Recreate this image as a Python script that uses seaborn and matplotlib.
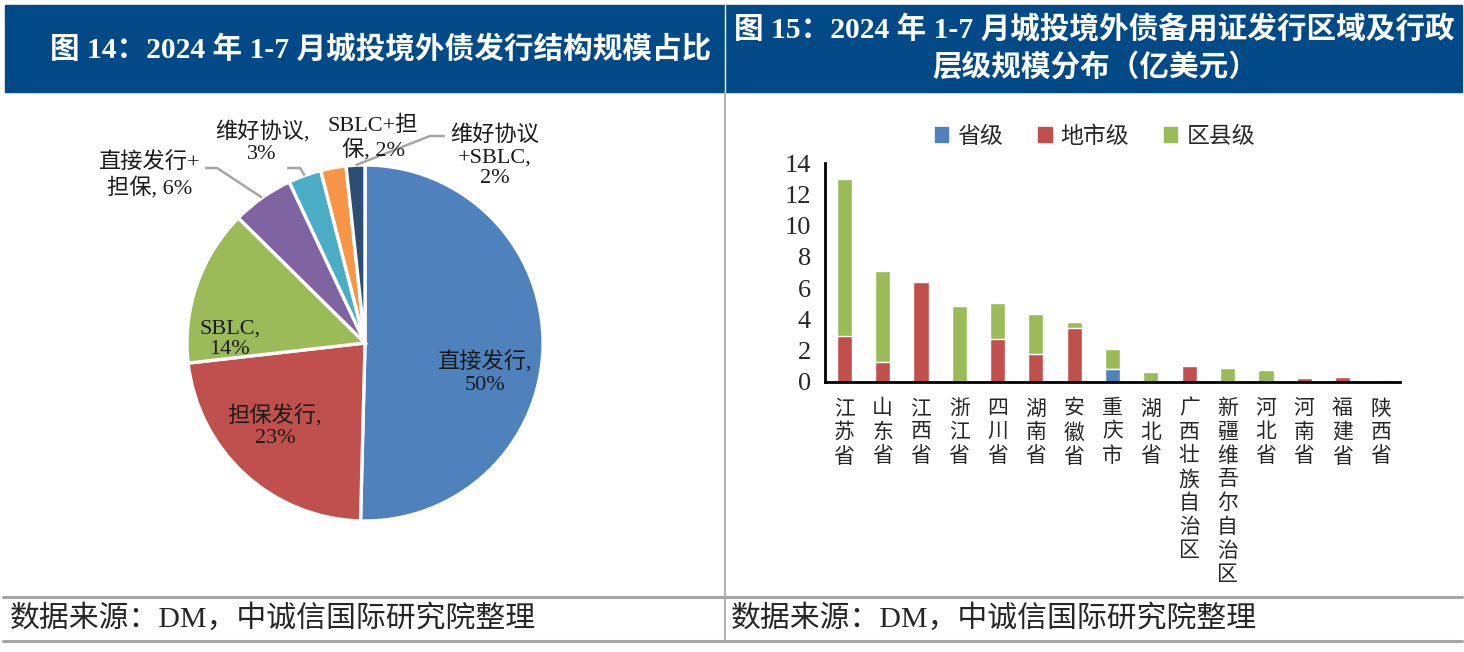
import numpy as np
import pandas as pd
import matplotlib
matplotlib.use('Agg')
import matplotlib.pyplot as plt
import seaborn as sns
from matplotlib.patches import Rectangle, Patch
from matplotlib.lines import Line2D

# pie data: issuance structure (%)
pie_labels = ['直接发行,\n50%', '担保发行,\n23%', 'SBLC,\n14%', '直接发行+\n担保, 6%',
              '维好协议,\n3%', 'SBLC+担\n保, 2%', '维好协议\n+SBLC,\n2%']
pie_values = [50.4, 22.8, 14.2, 5.6, 3.0, 2.3, 1.7]
pie_colors = ['#4F81BD', '#C0504D', '#9BBB59', '#8064A2', '#4BACC6', '#F79646', '#2C4D75']

# bar data: by region and admin level (100m USD)
regions = ['江苏省', '山东省', '江西省', '浙江省', '四川省', '湖南省', '安徽省', '重庆市',
           '湖北省', '广西壮族自治区', '新疆维吾尔自治区', '河北省', '河南省', '福建省', '陕西省']
province = [0, 0, 0, 0, 0, 0, 0, 0.85, 0, 0, 0, 0, 0, 0, 0]
city = [2.95, 1.3, 6.4, 0, 2.75, 1.8, 3.45, 0, 0, 1.0, 0, 0, 0.25, 0.32, 0]
county = [10.0, 5.8, 0, 4.85, 2.3, 2.55, 0.4, 1.25, 0.65, 0, 0.88, 0.75, 0, 0, 0.13]

sns.set_style('white')
plt.rcParams['font.family'] = ['Liberation Serif', 'Noto Sans CJK SC']
plt.rcParams['axes.unicode_minus'] = False

W, H = 1464, 652
fig = plt.figure(figsize=(W / 100, H / 100), dpi=100)


def fx(px):
    return px / W


def fy(py):
    return 1 - py / H


# title bars
fig.add_artist(Rectangle((fx(5), fy(92)), fx(1462) - fx(5), fy(5) - fy(92),
                         transform=fig.transFigure, color='#024A87', zorder=0))
fig.add_artist(Line2D([fx(725), fx(725)], [fy(92), fy(5)], color='white', lw=1))
fig.text(fx(381), fy(49), '图 14：2024 年 1-7 月城投境外债发行结构规模占比', color='white',
         fontsize=21.3, fontweight='bold', ha='center', va='center')
fig.text(fx(1094), fy(30), '图 15：2024 年 1-7 月城投境外债备用证发行区域及行政', color='white',
         fontsize=21.3, fontweight='bold', ha='center', va='center')
fig.text(fx(1095), fy(67), '层级规模分布（亿美元）', color='white',
         fontsize=21.3, fontweight='bold', ha='center', va='center')

# divider and bottom lines
fig.add_artist(Line2D([fx(725), fx(725)], [fy(641), fy(92)], color='#A6A6A6', lw=1.2))
for yy in (597, 641):
    fig.add_artist(Line2D([fx(3), fx(1462)], [fy(yy), fy(yy)], color='#A6A6A6', lw=2.2))
fig.text(fx(10), fy(618), '数据来源：DM，中诚信国际研究院整理', fontsize=21.5, va='center')
fig.text(fx(731), fy(618), '数据来源：DM，中诚信国际研究院整理', fontsize=21.5, va='center')

# ---- pie ----
cx, cy, R = 365, 343, 178
axp = fig.add_axes([fx(5), fy(590), fx(723) - fx(5), fy(95) - fy(590)])
axp.pie(pie_values, colors=pie_colors, startangle=90, counterclock=False, radius=1,
        wedgeprops=dict(edgecolor='white', linewidth=2.4))
axp.set_xlim((5 - cx) / R, (723 - cx) / R)
axp.set_ylim((cy - 590) / R, (cy - 95) / R)
axp.set_aspect('auto')
axp.axis('off')

# label positions in pie units
label_pos = [(0.674, -0.17), (-0.506, -0.47), (-0.76, 0.02), (-1.21, 0.94),
             (-0.579, 1.124), (0.045, 1.152), (0.73, 1.045)]
for lab, (lx, ly) in zip(pie_labels, label_pos):
    axp.text(lx, ly, lab, ha='center', va='center', fontsize=16, multialignment='center',
             linespacing=1.15, color='#1A1A1A')

# leader lines from wedge middles
cum = np.cumsum([0] + pie_values[:-1])
mid = (cum + np.array(pie_values) / 2) / 100 * 2 * np.pi
leaders = {3: [(-0.831, 0.983), (-0.899, 0.983)],
           4: [(-0.365, 0.983), (-0.438, 0.983)],
           6: [(0.365, 1.163), (0.449, 1.163)]}
for i, pts in leaders.items():
    ax0, ay0 = np.sin(mid[i]), np.cos(mid[i])
    xs = [ax0] + [p[0] for p in pts]
    ys = [ay0] + [p[1] for p in pts]
    axp.plot(xs, ys, color='#A6A6A6', lw=1.8, solid_capstyle='butt')

# ---- stacked bars ----
axb = fig.add_axes([fx(825), fy(382), fx(1400) - fx(825), fy(163) - fy(382)])
df = pd.DataFrame({'region': ['\n'.join(r) for r in regions],
                   'province': province, 'city': city, 'county': county})
df['total'] = df['province'] + df['city'] + df['county']
df['lower'] = df['province'] + df['city']
sns.barplot(data=df, x='region', y='total', color='#9BBB59', saturation=1, width=0.4, ax=axb)
sns.barplot(data=df, x='region', y='lower', color='#C0504D', saturation=1, width=0.4, ax=axb)
sns.barplot(data=df, x='region', y='province', color='#4F81BD', saturation=1, width=0.4, ax=axb)
axb.set_xlim(-0.5, len(regions) - 0.5)
axb.set_ylim(0, 14)
axb.set_yticks(range(0, 15, 2))
axb.set_xlabel('')
axb.set_ylabel('')
for s in ['top', 'right']:
    axb.spines[s].set_visible(False)
for s in ['left', 'bottom']:
    axb.spines[s].set_color('black')
    axb.spines[s].set_linewidth(2)
axb.tick_params(axis='y', length=0, labelsize=19, pad=10)
axb.tick_params(axis='x', length=0, labelsize=15, pad=13)
for t in axb.get_xticklabels():
    t.set_linespacing(1.3)
    t.set_va('top')

handles = [Patch(color='#4F81BD', label='省级'), Patch(color='#C0504D', label='地市级'),
           Patch(color='#9BBB59', label='区县级')]
fig.legend(handles=handles, loc='center', bbox_to_anchor=(fx(1095), fy(137)), ncol=3,
           frameon=False, fontsize=16.5, handlelength=0.6, handleheight=0.6,
           handletextpad=0.4, columnspacing=1.5)

fig.savefig('out.png', dpi=100)
